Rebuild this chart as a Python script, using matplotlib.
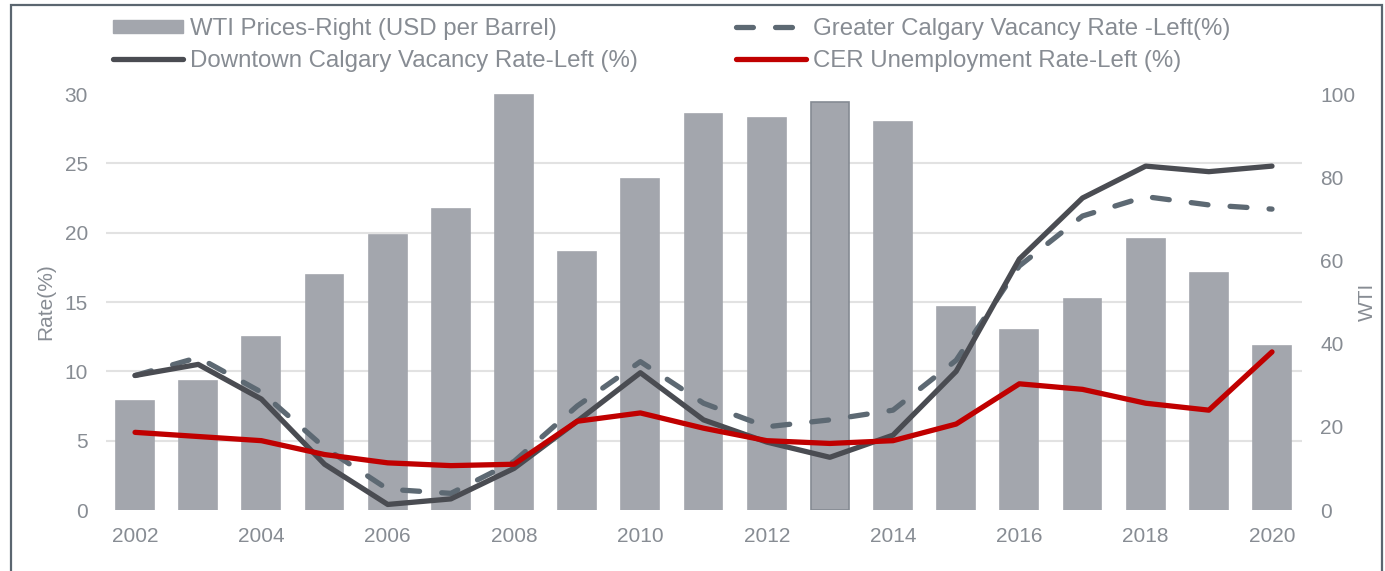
import numpy as np
import matplotlib
matplotlib.use("Agg")
import matplotlib.pyplot as plt
from matplotlib.patches import Rectangle, Patch
from matplotlib.lines import Line2D
from matplotlib.ticker import FixedLocator, MultipleLocator

plt.rcParams['font.family'] = ['Liberation Sans', 'DejaVu Sans']

years = list(range(2002, 2021))
wti = [26.2, 31.1, 41.5, 56.6, 66.1, 72.3, 99.7, 61.9, 79.5, 95.1,
       94.2, 98.0, 93.2, 48.7, 43.3, 50.8, 65.2, 57.0, 39.5]
downtown = [9.7, 10.5, 8.0, 3.3, 0.4, 0.8, 3.0, 6.4, 9.9, 6.5,
            4.9, 3.8, 5.4, 10.0, 18.1, 22.5, 24.8, 24.4, 24.8]
greater = [9.7, 11.0, 8.5, 4.5, 1.5, 1.2, 3.5, 7.5, 10.7, 7.7,
           6.0, 6.5, 7.2, 10.8, 17.6, 21.2, 22.6, 22.0, 21.7]
unemp = [5.6, 5.3, 5.0, 4.0, 3.4, 3.2, 3.3, 6.4, 7.0, 5.9,
         5.0, 4.8, 5.0, 6.2, 9.1, 8.7, 7.7, 7.2, 11.4]
xticks = list(range(2002, 2021, 2))

lbl_wti = "WTI Prices-Right (USD per Barrel)"
lbl_down = "Downtown Calgary Vacancy Rate-Left (%)"
lbl_greater = "Greater Calgary Vacancy Rate -Left(%)"
lbl_unemp = "CER Unemployment Rate-Left (%)"

BAR = "#A3A6AD"
DOWN = "#4A4C52"
GREAT = "#5D6973"
RED = "#C00000"
TXT = "#878C93"
GRID = "#E2E2E2"
LW = 3.8
DASH = (3.2, 4.2)

fig = plt.figure(figsize=(13.85, 5.71), dpi=100)
W, H = 1385, 571
left, right, bottom, top = 106 / W, 1302 / W, 1 - 510 / H, 1 - 94 / H
ax2 = fig.add_axes([left, bottom, right - left, top - bottom])  # bars (right axis)
ax = ax2.twinx()
ax.yaxis.tick_left()
ax.yaxis.set_label_position("left")
ax2.yaxis.tick_right()
ax2.yaxis.set_label_position("right")

# bars on right scale
edges = [BAR] * len(years)
edges[years.index(2013)] = "#858B93"
ax2.bar(years, wti, width=0.6, color=BAR, edgecolor=edges, linewidth=1.2, zorder=2)
ax2.set_ylim(0, 100)
ax2.yaxis.set_major_locator(MultipleLocator(20))
ax2.yaxis.set_minor_locator(FixedLocator(np.linspace(0, 100, 7)))
ax2.grid(which='minor', axis='y', color=GRID, linewidth=1.5, zorder=0)
ax2.set_axisbelow(True)
ax2.tick_params(which='minor', length=0)

# lines on left scale
ax.set_zorder(ax2.get_zorder() + 1)
ax.patch.set_visible(False)
ax.plot(years, greater, color=GREAT, lw=LW, dashes=DASH, dash_capstyle='round', zorder=3)
ax.plot(years, downtown, color=DOWN, lw=LW, solid_capstyle='round', solid_joinstyle='round', zorder=4)
ax.plot(years, unemp, color=RED, lw=LW, solid_capstyle='round', solid_joinstyle='round', zorder=5)
ax.set_ylim(0, 30)
ax.yaxis.set_major_locator(MultipleLocator(5))

ax.set_xlim(2002 - 0.46, 2020 + 0.475)
ax2.set_xticks(xticks)
ax2.set_xticklabels([str(y) for y in xticks])

for a in (ax, ax2):
    for s in a.spines.values():
        s.set_visible(False)
ax.tick_params(axis='y', length=0, pad=13, labelsize=15, labelcolor=TXT)
ax2.tick_params(axis='y', which='major', length=0, pad=13, labelsize=15, labelcolor=TXT)
ax2.tick_params(axis='x', length=0, pad=12.5, labelsize=15, labelcolor=TXT)

ax.set_ylabel("Rate(%)", fontsize=15, color=TXT, labelpad=7)
ax2.set_ylabel("WTI", fontsize=15, color=TXT, labelpad=2)

handles = [
    Patch(facecolor=BAR, edgecolor=BAR),
    Line2D([], [], color=DOWN, lw=LW, solid_capstyle='round'),
    Line2D([], [], color=GREAT, lw=LW, dashes=DASH, dash_capstyle='round'),
    Line2D([], [], color=RED, lw=LW, solid_capstyle='round'),
]
labels = [lbl_wti, lbl_down, lbl_greater, lbl_unemp]
leg = fig.legend(handles, labels, loc='upper left', bbox_to_anchor=(113 / W, 1 - 18 / H),
                 ncol=2, frameon=False, fontsize=17.3, handlelength=2.9, handleheight=0.5,
                 handletextpad=0.3, columnspacing=4.1, labelspacing=0.42,
                 borderpad=0, borderaxespad=0)
for t in leg.get_texts():
    t.set_color(TXT)

fig.add_artist(Rectangle((11 / W, -0.2), (1382 - 11) / W, 1.2 - 5 / H,
                         transform=fig.transFigure, fill=False,
                         edgecolor="#5B6670", linewidth=1.6, zorder=10))

fig.savefig("out.png", dpi=100)
